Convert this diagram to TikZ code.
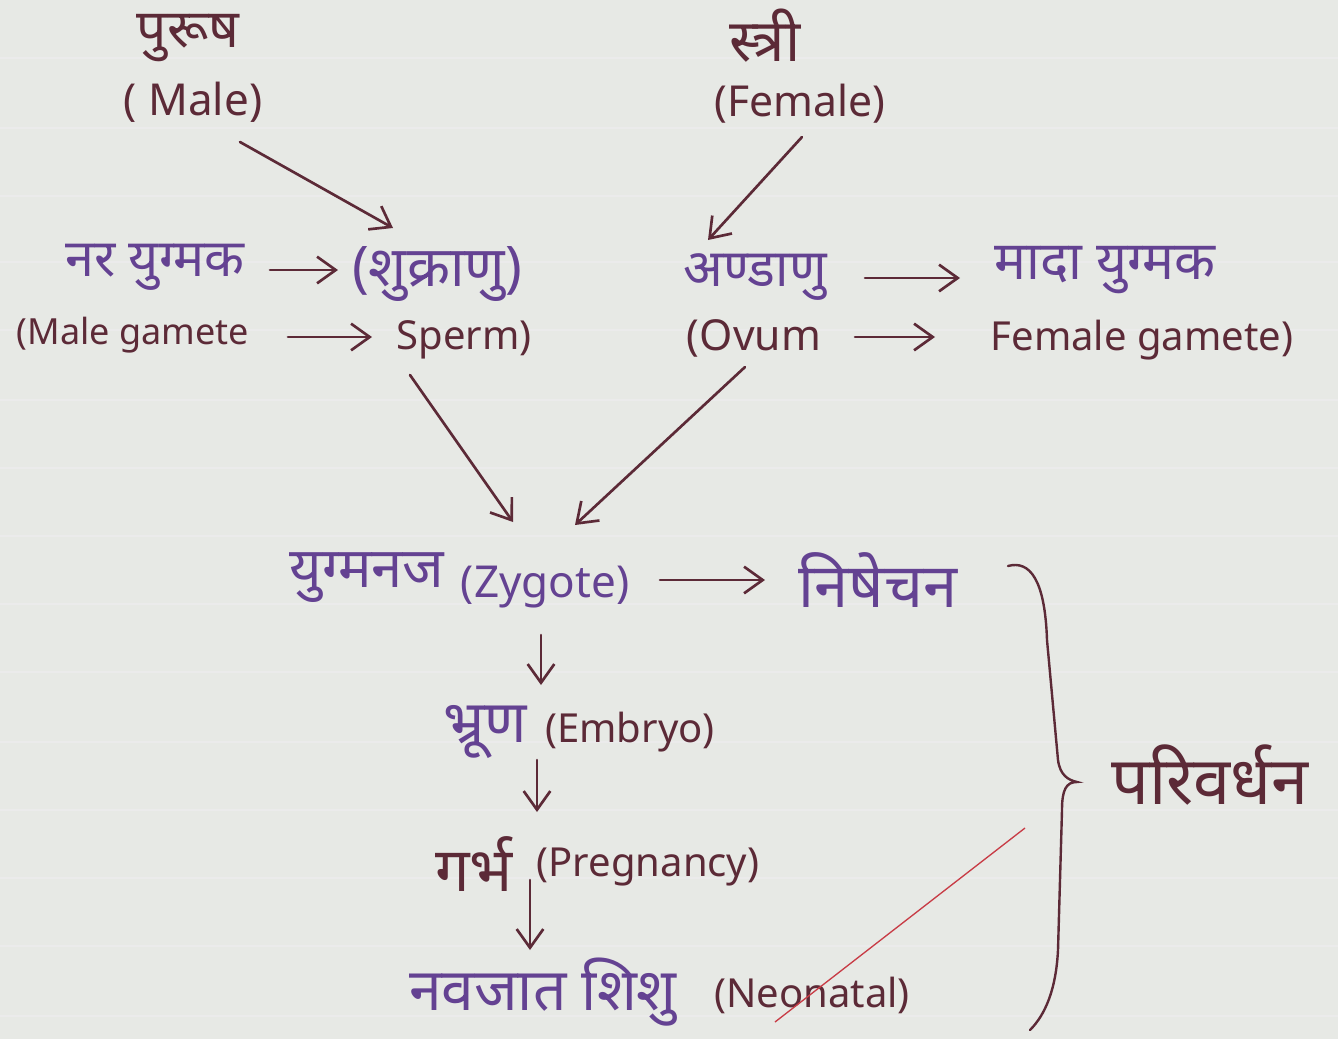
\documentclass[tikz,border=0pt]{standalone}
\usepackage{fontspec}
\setmainfont{Noto Sans}
\newfontfamily\dev[Script=Devanagari]{Noto Sans}
\usetikzlibrary{arrows.meta}
\definecolor{paper}{RGB}{231,233,229}
\definecolor{ink}{RGB}{92,42,55}
\definecolor{vio}{RGB}{100,66,146}
\definecolor{redpen}{RGB}{200,60,70}
\tikzset{
  hin/.style={font=\dev\fontsize{#1}{#1}\selectfont, text=vio, inner sep=0pt},
  hin/.default=40,
  hinm/.style={font=\dev\fontsize{#1}{#1}\selectfont, text=ink, inner sep=0pt},
  hinm/.default=40,
  eng/.style={font=\fontsize{#1}{#1}\selectfont, text=ink, inner sep=0pt},
  eng/.default=30,
  arr/.style={draw=ink, line width=2pt, line cap=round, -{Straight Barb[length=14pt,width=20pt,line width=2pt]}},
}
\begin{document}
\begin{tikzpicture}[x=0.75pt,y=-0.75pt]
\fill[paper] (0,0) rectangle (1338,1039);
\useasboundingbox (0,0) rectangle (1338,1039);
% faint ruled lines
\foreach \yy in {58,128,196,262,330,400,468,536,604,672,742,810,878,946,1016}
  \draw[black!8, line width=0.8pt] (0,\yy) -- (1338,\yy);

% nodes
\node[hinm=40] (purush) at (188,38) {पुरूष};
\node[eng=33] (male) at (193,102) {( Male)};
\node[hinm=44] (stri) at (765,36) {स्त्री};
\node[eng=32] (female) at (800,104) {(Female)};

\node[hin=39] (nar) at (155,267) {नर युग्मक};
\node[hin=42] (shukr) at (437,274) {(शुक्राणु)};
\node[eng=27] (malegam) at (133,335) {(Male gamete};
\node[eng=30] (sperm) at (464,340) {Sperm)};

\node[hin=39] (anda) at (755,277) {अण्डाणु};
\node[hin=40] (mada) at (1105,270) {मादा युग्मक};
\node[eng=32] (ovum) at (754,338) {(Ovum};
\node[eng=30] (femgam) at (1142,340) {Female gamete)};

\node[hin=42] (yugm) at (367,578) {युग्मनज};
\node[eng=33, text=vio] (zyg) at (545,587) {(Zygote)};
\node[hin=46] (nish) at (878,580) {निषेचन};

\node[hin=44] (bhrun) at (485,732) {भ्रूण};
\node[eng=30] (embryo) at (630,732) {(Embryo)};
\node[hinm=46] (garbh) at (474,864) {गर्भ};
\node[eng=30] (preg) at (648,867) {(Pregnancy)};
\node[hin=44] (navjat) at (543,992) {नवजात शिशु};
\node[eng=30] (neo) at (812,995) {(Neonatal)};

\node[hinm=50] (pari) at (1210,775) {परिवर्धन};

% arrows
\draw[arr] ([shift={(47,40)}]male.center) -- ([shift={(-44,-46)}]shukr.center);
\draw[arr] ([shift={(2,33)}]female.center) -- ([shift={(-47,-37)}]anda.center);
\draw[arr] ([shift={(115,3)}]nar.center) -- ([shift={(-99,-4)}]shukr.center);
\draw[arr] ([shift={(155,2)}]malegam.center) -- ([shift={(-92,-3)}]sperm.center);
\draw[arr] ([shift={(110,1)}]anda.center) -- ([shift={(-145,8)}]mada.center);
\draw[arr] ([shift={(101,-1)}]ovum.center) -- ([shift={(-207,-3)}]femgam.center);
\draw[arr] ([shift={(-54,35)}]sperm.center) -- ([shift={(-32,-65)}]zyg.center);
\draw[arr] ([shift={(-9,29)}]ovum.center) -- ([shift={(30,-62)}]zyg.center);
\draw[arr] ([shift={(115,-7)}]zyg.center) -- ([shift={(-113,0)}]nish.center);
\draw[arr] ([shift={(-4,48)}]zyg.center) -- ([shift={(56,-47)}]bhrun.center);
\draw[arr] ([shift={(52,28)}]bhrun.center) -- ([shift={(63,-52)}]garbh.center);
\draw[arr] ([shift={(56,16)}]garbh.center) -- ([shift={(-13,-42)}]navjat.center);

% brace
\coordinate (btop) at (1008,566);
\coordinate (btip) at (1077,782);
\coordinate (bbot) at (1030,1030);
\draw[ink, line width=1.8pt, line cap=round]
  (btop) .. controls (1030,560) and (1045,580) .. (1047,640)
  -- (1058,760) .. controls (1060,775) and (1068,780) .. (btip)
  .. controls (1066,782) and (1062,790) .. (1062,810)
  -- (1058,950) .. controls (1056,990) and (1045,1015) .. (bbot);

% red pen stroke
\coordinate (r1) at (775,1022);
\coordinate (r2) at (1025,828);
\draw[redpen, line width=1pt] (r1) -- (r2);
\end{tikzpicture}
\end{document}
